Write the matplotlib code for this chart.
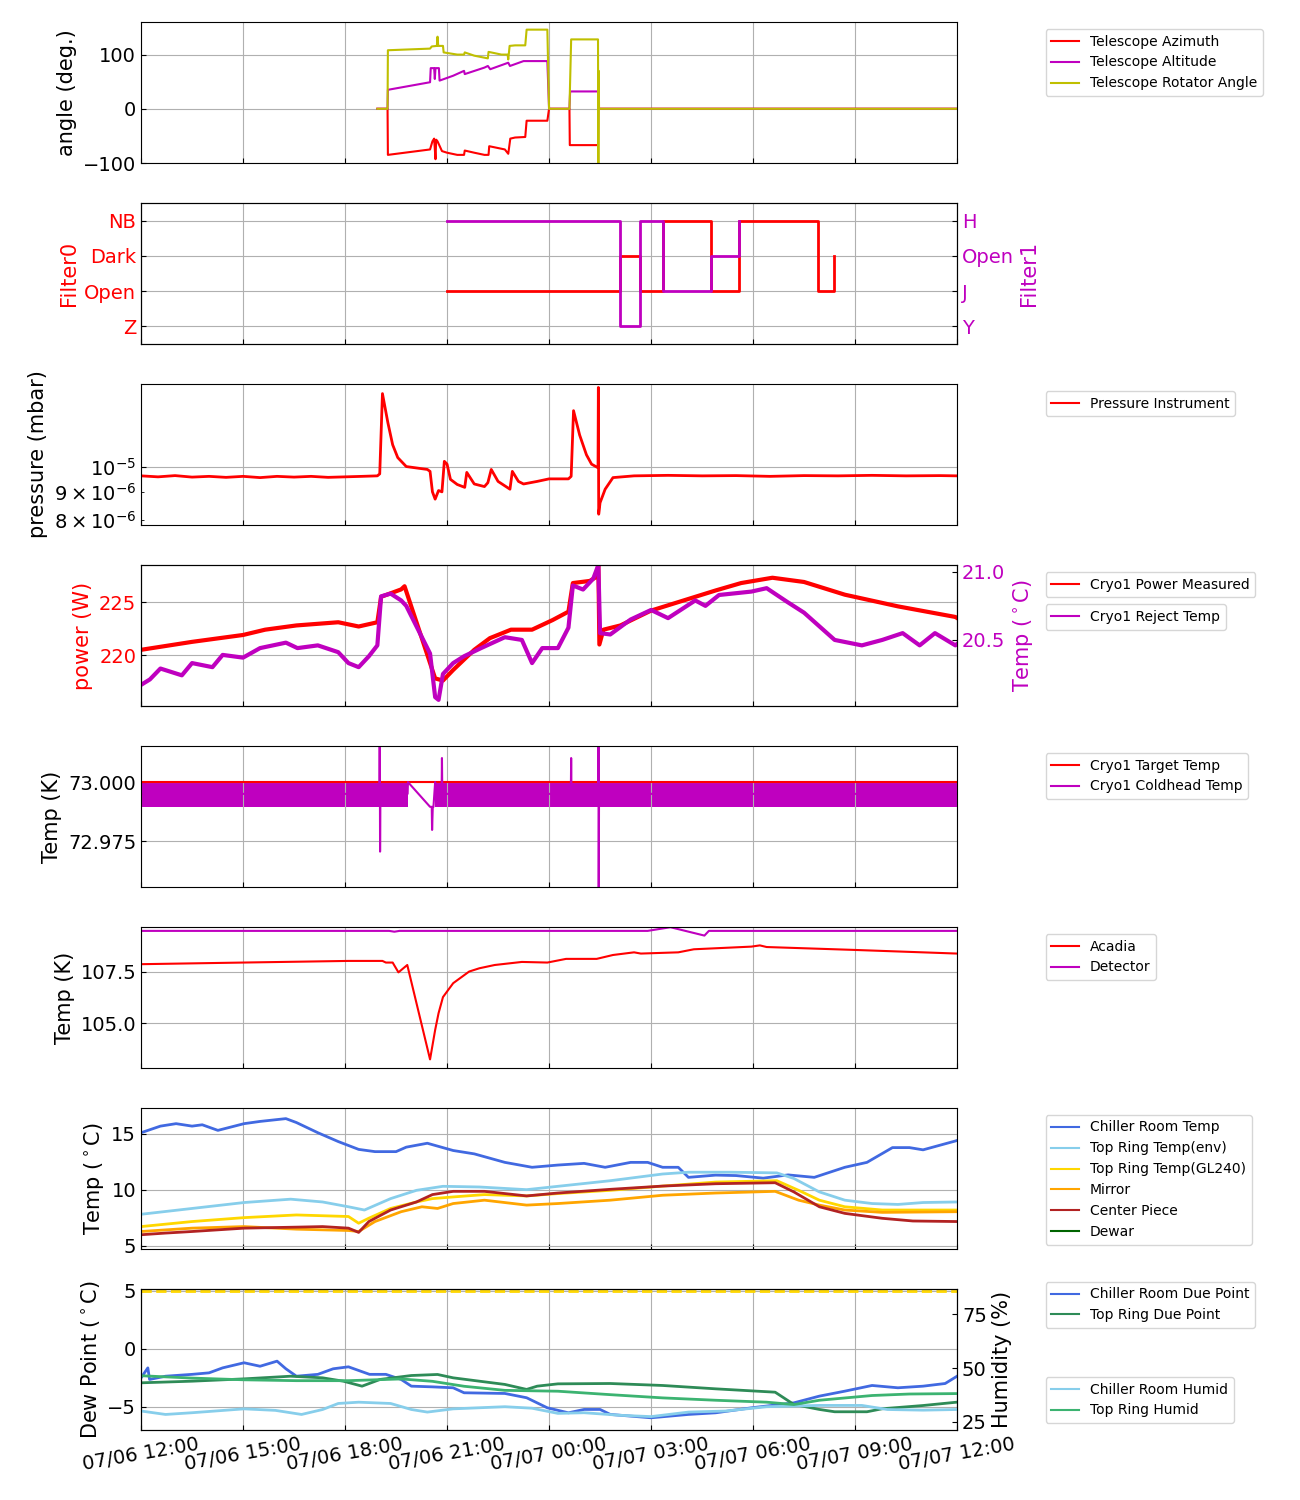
import datetime as dt
import numpy as np
import matplotlib
matplotlib.use("Agg")
import matplotlib.pyplot as plt
import matplotlib.dates as mdates
from matplotlib.ticker import FormatStrFormatter

BASE = dt.datetime(2024, 7, 6, 12, 0)


def T(hours):
    return [BASE + dt.timedelta(hours=float(h)) for h in hours]


# ---------------- Panel 1 : telescope angles ----------------
az_t = [6.95, 7.25, 7.26, 8.5, 8.57, 8.62, 8.66, 8.68, 8.72, 8.85, 9.0, 9.3, 9.5, 9.52,
        9.8, 10.1, 10.22, 10.24, 10.7, 10.8, 10.86, 11.0, 11.3, 11.34, 11.95, 12.0, 12.6,
        12.61, 13.44, 13.45, 24.0]
az_v = [0, 0, -85, -75, -60, -55, -93, -57, -60, -78, -81, -85, -85, -77,
        -81, -85, -85, -69, -75, -83, -55, -53, -52, -22, -22, 0, 0,
        -67, -67, 0, 0]
alt_t = [6.95, 7.25, 7.26, 8.5, 8.52, 8.62, 8.64, 8.66, 8.76, 8.78, 9.18, 9.5, 9.52, 10.1,
         10.2, 10.27, 10.8, 10.85, 11.25, 11.95, 12.0, 12.6, 12.62, 13.44, 13.45, 24.0]
alt_v = [0, 0, 35, 49, 75, 75, 55, 75, 75, 52, 61, 70, 64, 76,
         79, 73, 85, 79, 88, 88, 0, 0, 32, 32, 0, 0]
rot_t = [6.95, 7.25, 7.26, 8.5, 8.55, 8.7, 8.72, 8.74, 8.88, 8.9, 9.3, 9.5, 9.52, 9.8,
         10.2, 10.22, 10.6, 10.78, 10.8, 10.84, 11.0, 11.3, 11.34, 11.95, 12.0, 12.6, 12.65,
         13.44, 13.45, 13.46, 13.47, 24.0]
rot_v = [0, 0, 108, 111, 115, 116, 133, 116, 116, 104, 100, 100, 104, 98,
         93, 105, 100, 100, 91, 116, 117, 117, 146, 146, 0, 0, 128,
         128, -160, 70, 0, 0]

# ---------------- Panel 2 : filters ----------------
filter0_labels = ["Z", "Open", "Dark", "NB"]
filter1_labels = ["Y", "J", "Open", "H"]
f0_t = [9.0, 14.08, 14.68, 15.34, 16.77, 17.6, 19.9, 20.38]
f0_v = [1, 2, 1, 3, 1, 3, 1, 2]
f1_t = [9.0, 14.08, 14.68, 15.34, 16.77, 17.6]
f1_v = [3, 0, 3, 1, 2, 3]

# ---------------- Panel 3 : pressure (1e-6 mbar) ----------------
press_t = [0, 0.5, 1.0, 1.5, 2.0, 2.5, 3.0, 3.5, 4.0, 4.5, 5.0, 5.5, 6.0, 6.5, 6.95, 7.02,
           7.1, 7.26, 7.4, 7.55, 7.8, 8.42, 8.5, 8.57, 8.65, 8.75, 8.85, 8.92, 9.0, 9.1,
           9.3, 9.52, 9.58, 9.8, 10.1, 10.2, 10.3, 10.5, 10.85, 10.92, 11.1, 11.25, 11.65,
           12.0, 12.57, 12.65, 12.72, 12.9, 13.1, 13.25, 13.44, 13.45, 13.46, 13.5, 13.65,
           13.88, 14.5, 15.5, 16.5, 17.5, 18.5, 19.5, 20.5, 21.5, 22.5, 23.5, 24.0]
press_v = [9.62, 9.58, 9.63, 9.57, 9.6, 9.56, 9.6, 9.55, 9.6, 9.57, 9.6, 9.56, 9.58, 9.6, 9.62, 9.7,
           13.55, 12.0, 10.95, 10.38, 10.0, 9.88, 9.8, 9.0, 8.73, 9.05, 9.0, 10.22, 10.1, 9.48,
           9.28, 9.17, 9.76, 9.3, 9.2, 9.35, 9.88, 9.4, 9.1, 9.8, 9.4, 9.3, 9.4,
           9.5, 9.5, 9.6, 12.62, 11.4, 10.5, 10.1, 9.95, 13.9, 8.2, 8.6, 9.1,
           9.55, 9.62, 9.64, 9.62, 9.63, 9.6, 9.63, 9.62, 9.64, 9.62, 9.63, 9.62]

# ---------------- Panel 4 : cryo power / reject temp ----------------
pow_t = [0, 1.5, 3.0, 3.65, 4.57, 5.8, 6.4, 6.95, 7.06, 7.65, 7.75, 8.65, 8.88, 9.18,
         9.8, 10.26, 10.88, 11.5, 12.1, 12.57, 12.7, 13.2, 13.4, 13.45, 13.48, 13.6,
         14.1, 15.0, 16.1, 16.9, 17.65, 18.57, 19.5, 20.7, 22.26, 23.95, 24.0]
pow_v = [220.5, 221.25, 221.9, 222.4, 222.8, 223.1, 222.7, 223.1, 225.5, 226.2, 226.5, 217.8, 217.6, 218.6,
         220.5, 221.6, 222.4, 222.4, 223.3, 224.1, 226.8, 227.0, 227.4, 228.6, 221.0, 222.4,
         222.8, 224.2, 225.3, 226.1, 226.8, 227.3, 226.9, 225.7, 224.6, 223.6, 223.5]
rej_t = [0, 0.26, 0.57, 1.2, 1.5, 2.1, 2.4, 3.0, 3.5, 4.26, 4.6, 5.2, 5.8, 6.1, 6.4, 6.7,
         6.95, 7.06, 7.34, 7.65, 7.8, 8.5, 8.65, 8.75, 8.88, 9.18, 9.5, 10.0, 10.7, 11.2,
         11.5, 11.8, 12.26, 12.57, 12.7, 13.0, 13.3, 13.45, 13.5, 13.8, 14.4, 15.0, 15.5,
         16.3, 16.6, 17.0, 17.95, 18.4, 19.0, 19.5, 19.95, 20.4, 21.2, 21.8, 22.4, 22.9,
         23.35, 23.95, 24.0]
rej_v = [20.17, 20.21, 20.29, 20.24, 20.33, 20.3, 20.39, 20.37, 20.44, 20.48, 20.44, 20.46, 20.41, 20.33, 20.30, 20.38,
         20.46, 20.82, 20.84, 20.79, 20.75, 20.40, 20.08, 20.06, 20.25, 20.33, 20.38, 20.44, 20.52, 20.5,
         20.33, 20.44, 20.44, 20.59, 20.90, 20.87, 20.95, 21.05, 20.55, 20.54, 20.65, 20.72, 20.66,
         20.79, 20.75, 20.83, 20.855, 20.88, 20.78, 20.70, 20.60, 20.50, 20.46, 20.50, 20.55, 20.46,
         20.55, 20.46, 20.47]

# ---------------- Panel 5 : cryo target / coldhead ----------------
target_t = [0, 24.0]
target_v = [73.0, 73.0]
band_t = [0, 7.85, 7.85, 8.65, 8.65, 24.0]
band_hi = [73.0006, 73.0006, np.nan, np.nan, 73.0006, 73.0006]
band_lo = [72.9895, 72.9895, np.nan, np.nan, 72.9895, 72.9895]
cold_t = [0, 7.01, 7.02, 7.03, 7.04, 7.84, 7.85, 8.5, 8.55, 8.56, 8.58, 8.6, 8.65, 8.66,
          8.84, 8.85, 8.86, 12.64, 12.65, 12.66, 13.45, 13.455, 13.46, 13.47, 24.0]
cold_v = [72.995, 72.995, 73.03, 72.9705, 72.995, 72.995, 73.0, 72.9895, 72.9895, 72.9797, 72.9895, 72.9895, 73.0, 72.995,
          72.995, 73.0102, 72.995, 72.995, 73.0102, 72.995, 72.995, 73.03, 72.94, 72.995, 72.995]

# ---------------- Panel 6 : Acadia / Detector ----------------
acadia_t = [0, 3.0, 6.1, 7.1, 7.2, 7.4, 7.57, 7.83, 8.5, 8.65, 8.75, 8.88, 9.18, 9.65, 9.95,
            10.4, 11.2, 11.95, 12.5, 13.4, 13.88, 14.5, 14.7, 15.8, 16.26, 17.95, 18.2, 18.4,
            20.95, 24.0]
acadia_v = [107.88, 107.96, 108.04, 108.04, 107.96, 107.96, 107.48, 107.84, 103.22, 104.66, 105.48, 106.27, 106.95, 107.52, 107.68,
            107.84, 107.99, 107.96, 108.14, 108.14, 108.33, 108.46, 108.4, 108.46, 108.61, 108.74, 108.8, 108.72,
            108.58, 108.4]
det_t = [0, 7.3, 7.45, 7.6, 14.9, 15.57, 16.57, 16.7, 24.0]
det_v = [109.51, 109.51, 109.47, 109.51, 109.51, 109.69, 109.28, 109.51, 109.51]

# ---------------- Panel 7 : environment temps ----------------
chiller_t = [0, 0.57, 1.03, 1.5, 1.8, 2.26, 3.03, 3.5, 4.26, 4.57, 5.2, 5.8, 6.4, 6.88, 7.5, 7.8,
             8.42, 9.18, 9.8, 10.7, 11.5, 12.26, 13.03, 13.65, 14.4, 14.9, 15.34, 15.8, 16.1,
             16.9, 17.5, 18.3, 19.03, 19.8, 20.7, 21.35, 22.1, 22.6, 23.0, 23.95, 24.0]
chiller_v = [15.09, 15.68, 15.9, 15.68, 15.8, 15.3, 15.9, 16.1, 16.35, 16.0, 15.09, 14.3, 13.6, 13.4, 13.4, 13.8,
             14.15, 13.5, 13.2, 12.44, 12.0, 12.2, 12.35, 12.0, 12.44, 12.44, 12.0, 12.0, 11.1,
             11.3, 11.26, 11.03, 11.32, 11.1, 12.0, 12.44, 13.76, 13.76, 13.56, 14.35, 14.4]
env_t = [0, 1.5, 3.03, 4.4, 5.34, 6.1, 6.57, 7.34, 8.1, 8.88, 9.95, 11.34, 12.26, 13.8, 15.34,
         16.1, 17.34, 18.7, 19.2, 19.95, 20.7, 21.5, 22.26, 23.0, 24.0]
env_v = [7.8, 8.32, 8.85, 9.15, 8.9, 8.47, 8.18, 9.2, 9.94, 10.3, 10.24, 10.0, 10.3, 10.8, 11.4,
         11.56, 11.56, 11.5, 11.0, 9.8, 9.06, 8.76, 8.68, 8.85, 8.9]
gl_t = [0, 1.5, 3.03, 4.57, 6.1, 6.4, 6.7, 7.34, 8.1, 8.57, 9.18, 10.1, 11.34, 12.26, 13.8,
        15.34, 16.9, 18.7, 19.34, 19.95, 20.7, 21.8, 24.0]
gl_v = [6.7, 7.15, 7.5, 7.74, 7.6, 7.0, 7.45, 8.32, 8.9, 9.2, 9.35, 9.56, 9.44, 9.65, 9.94,
        10.32, 10.68, 10.8, 9.94, 9.06, 8.47, 8.18, 8.18]
mirror_t = [0, 1.5, 3.03, 4.57, 6.1, 6.4, 6.88, 7.65, 8.26, 8.72, 9.18, 10.1, 11.34, 12.26, 13.8,
            15.34, 16.9, 18.65, 19.34, 19.95, 20.7, 21.8, 24.0]
mirror_v = [6.26, 6.56, 6.7, 6.47, 6.35, 6.26, 7.15, 8.03, 8.47, 8.32, 8.76, 9.06, 8.62, 8.76, 9.06,
            9.5, 9.7, 9.85, 9.06, 8.62, 8.18, 7.97, 8.03]
center_t = [0, 0.72, 1.5, 3.03, 4.57, 5.34, 6.1, 6.4, 6.7, 7.34, 8.1, 8.57, 9.18, 10.1, 11.34,
            12.26, 13.8, 15.34, 16.9, 18.65, 19.2, 19.95, 20.7, 21.8, 22.7, 24.0]
center_v = [5.97, 6.12, 6.26, 6.56, 6.65, 6.7, 6.56, 6.18, 7.15, 8.18, 8.9, 9.56, 9.85, 9.85, 9.44,
            9.7, 10.03, 10.32, 10.53, 10.62, 9.8, 8.47, 7.88, 7.44, 7.2, 7.15]
dewar_t = []
dewar_v = []

# ---------------- Panel 8 : dew point / humidity ----------------
dew_limit = 5
cdp_t = [0, 0.2, 0.25, 0.72, 1.5, 2.0, 2.4, 3.03, 3.5, 4.0, 4.26, 4.57, 5.2, 5.65, 6.1, 6.72,
         7.2, 7.65, 7.95, 8.57, 9.18, 9.5, 10.7, 11.34, 11.95, 12.57, 13.03, 13.5, 13.8, 15.0,
         16.1, 16.9, 17.95, 19.2, 19.95, 20.7, 21.5, 22.26, 23.0, 23.65, 24.0]
cdp_v = [-2.5, -1.64, -2.64, -2.36, -2.2, -2.07, -1.64, -1.2, -1.5, -1.06, -1.72, -2.36, -2.2, -1.72, -1.55, -2.2,
         -2.2, -2.64, -3.22, -3.28, -3.36, -3.79, -3.85, -4.22, -5.09, -5.52, -5.23, -5.23, -5.66, -5.95,
         -5.66, -5.52, -5.09, -4.66, -4.08, -3.65, -3.16, -3.36, -3.22, -2.99, -2.36]
tdp_t = [0, 1.5, 3.03, 4.4, 5.34, 5.95, 6.5, 7.03, 7.95, 8.72, 9.18, 9.95, 10.7, 11.34, 11.65,
         12.26, 13.8, 15.34, 16.9, 18.65, 19.2, 19.95, 20.4, 21.35, 21.8, 23.0, 24.0]
tdp_v = [-2.93, -2.79, -2.59, -2.36, -2.5, -2.79, -3.22, -2.64, -2.3, -2.21, -2.5, -2.79, -3.07, -3.5, -3.22,
         -3.02, -2.99, -3.16, -3.45, -3.74, -4.8, -5.23, -5.43, -5.43, -5.17, -4.89, -4.6]
crh_t = [0, 0.72, 1.5, 3.03, 3.95, 4.72, 5.34, 5.8, 6.4, 7.34, 7.95, 8.42, 9.18, 10.7, 11.5,
         12.26, 13.03, 14.1, 15.0, 16.1, 17.2, 18.4, 19.95, 21.2, 21.95, 23.0, 24.0]
crh_v = [30.1, 28.5, 29.3, 31.1, 30.4, 28.5, 30.8, 33.6, 34.2, 33.6, 30.8, 29.6, 31.1, 32.1, 31.4,
         29.0, 29.3, 28.1, 27.5, 29.6, 30.1, 32.1, 32.7, 32.7, 30.8, 30.5, 30.8]
trh_t = [0, 1.5, 3.03, 4.57, 6.1, 7.65, 8.57, 9.5, 10.7, 12.26, 13.8, 15.34, 16.9, 18.4, 19.2,
         19.95, 21.5, 22.6, 24.0]
trh_v = [46.5, 45.4, 44.6, 44.2, 44.2, 45.0, 43.9, 41.6, 39.7, 39.3, 37.7, 36.2, 35.1, 34.2, 33.1,
         35.1, 37.3, 38.0, 38.2]

# ================= Figure =================
TICK = 14
LAB = 15
LEG = 10
fig = plt.figure(figsize=(13, 15), dpi=100)
gs = fig.add_gridspec(8, 1, left=0.1085, right=0.7362, top=0.9853, bottom=0.0467, hspace=0.284)
axes = []
for i in range(8):
    ax = fig.add_subplot(gs[i, 0], sharex=axes[0] if axes else None)
    axes.append(ax)


def style(ax, grid=True):
    ax.tick_params(direction="in", labelsize=TICK, which="both")
    if grid:
        ax.grid(True)


def leg(ax, handles=None, y=1.0, loc="upper left"):
    kw = dict(loc=loc, bbox_to_anchor=(1.1, y), fontsize=LEG)
    if handles is not None:
        kw["handles"] = handles
    lg = ax.legend(**kw)
    for ln in lg.get_lines():
        ln.set_linewidth(1.5)
    return lg


# Panel 1
ax = axes[0]
ax.plot(T(az_t), az_v, color="r", label="Telescope Azimuth")
ax.plot(T(alt_t), alt_v, color="m", label="Telescope Altitude")
ax.plot(T(rot_t), rot_v, color="y", label="Telescope Rotator Angle")
ax.set_ylim(-100, 160)
ax.set_yticks([-100, 0, 100])
ax.set_ylabel("angle (deg.)", fontsize=LAB)
style(ax)
leg(ax)

# Panel 2
ax = axes[1]
ax.step(T(f0_t), f0_v, where="post", color="r", lw=2)
ax.set_ylim(-0.5, 3.5)
ax.set_yticks(range(len(filter0_labels)))
ax.set_yticklabels(filter0_labels)
ax.set_ylabel("Filter0", color="r", fontsize=LAB)
style(ax)
ax.tick_params(axis="y", labelcolor="r")
ax2 = ax.twinx()
ax2.step(T(f1_t), f1_v, where="post", color="m", lw=2)
ax2.set_ylim(-0.5, 3.5)
ax2.set_yticks(range(len(filter1_labels)))
ax2.set_yticklabels(filter1_labels)
ax2.set_ylabel("Filter1", color="m", fontsize=LAB)
ax2.tick_params(direction="in", labelsize=TICK, labelcolor="m")

# Panel 3
ax = axes[2]
ax.plot(T(press_t), np.array(press_v) * 1e-6, color="r", lw=2, label="Pressure Instrument")
ax.set_yscale("log")
ax.set_ylim(7.84e-6, 1.41e-5)
ax.set_ylabel("pressure (mbar)", fontsize=LAB)
style(ax)
leg(ax)

# Panel 4
ax = axes[3]
l1, = ax.plot(T(pow_t), pow_v, color="r", lw=3, label="Cryo1 Power Measured")
ax.set_ylim(215.2, 228.5)
ax.set_yticks([220, 225])
ax.set_ylabel("power (W)", color="r", fontsize=LAB)
style(ax)
ax.tick_params(axis="y", labelcolor="r")
ax2 = ax.twinx()
l2, = ax2.plot(T(rej_t), rej_v, color="m", lw=3, label="Cryo1 Reject Temp")
ax2.set_ylim(20.015, 21.05)
ax2.set_yticks([20.5, 21.0])
ax2.yaxis.set_major_formatter(FormatStrFormatter("%.1f"))
ax2.set_ylabel("Temp ($^\\circ$C)", color="m", fontsize=LAB)
ax2.tick_params(direction="in", labelsize=TICK, labelcolor="m")
leg(ax, handles=[l1], y=1.0)
leg(ax2, handles=[l2], y=0.77)

# Panel 5
ax = axes[4]
ax.plot(T(target_t), target_v, color="r", lw=1.5, label="Cryo1 Target Temp")
ax.fill_between(T(band_t), band_lo, band_hi, color="m", lw=0)
ax.plot(T(cold_t), cold_v, color="m", lw=1.5, label="Cryo1 Coldhead Temp")
ax.set_ylim(72.9555, 73.0153)
ax.set_yticks([72.975, 73.0])
ax.yaxis.set_major_formatter(FormatStrFormatter("%.3f"))
ax.set_ylabel("Temp (K)", fontsize=LAB)
style(ax)
leg(ax)

# Panel 6
ax = axes[5]
ax.plot(T(acadia_t), acadia_v, color="r", lw=1.5, label="Acadia")
ax.plot(T(det_t), det_v, color="m", lw=1.5, label="Detector")
ax.set_ylim(102.8, 109.7)
ax.set_yticks([105.0, 107.5])
ax.yaxis.set_major_formatter(FormatStrFormatter("%.1f"))
ax.set_ylabel("Temp (K)", fontsize=LAB)
style(ax)
leg(ax)

# Panel 7
ax = axes[6]
ax.plot(T(chiller_t), chiller_v, color="royalblue", lw=2, label="Chiller Room Temp")
ax.plot(T(env_t), env_v, color="skyblue", lw=2, label="Top Ring Temp(env)")
ax.plot(T(gl_t), gl_v, color="gold", lw=2, label="Top Ring Temp(GL240)")
ax.plot(T(mirror_t), mirror_v, color="orange", lw=2, label="Mirror")
ax.plot(T(center_t), center_v, color="firebrick", lw=2, label="Center Piece")
ax.plot(T(dewar_t), dewar_v, color="darkgreen", lw=2, label="Dewar")
ax.set_ylim(4.7, 17.3)
ax.set_yticks([5, 10, 15])
ax.set_ylabel("Temp ($^\\circ$C)", fontsize=LAB)
style(ax)
leg(ax)

# Panel 8
ax = axes[7]
ax.axhline(dew_limit, color="gold", ls="--", lw=2)
h1, = ax.plot(T(cdp_t), cdp_v, color="royalblue", lw=2, label="Chiller Room Due Point")
h2, = ax.plot(T(tdp_t), tdp_v, color="seagreen", lw=2, label="Top Ring Due Point")
ax.set_ylim(-7.0, 5.17)
ax.set_yticks([-5, 0, 5])
ax.set_ylabel("Dew Point ($^\\circ$C)", fontsize=LAB)
style(ax)
ax2 = ax.twinx()
h3, = ax2.plot(T(crh_t), crh_v, color="skyblue", lw=2, label="Chiller Room Humid")
h4, = ax2.plot(T(trh_t), trh_v, color="mediumseagreen", lw=2, label="Top Ring Humid")
ax2.set_ylim(21.3, 86.8)
ax2.set_yticks([25, 50, 75])
ax2.set_ylabel("Humidity (%)", fontsize=LAB)
ax2.tick_params(direction="in", labelsize=TICK)
leg(ax, handles=[h1, h2], y=1.1)
leg(ax2, handles=[h3, h4], y=0.0, loc="lower left")

# shared x axis
axes[0].set_xlim(BASE, BASE + dt.timedelta(hours=24))
axes[-1].xaxis.set_major_locator(mdates.HourLocator(byhour=range(0, 24, 3)))
axes[-1].xaxis.set_major_formatter(mdates.DateFormatter("%m/%d %H:%M"))
for a in axes[:-1]:
    a.tick_params(labelbottom=False)
for lbl in axes[-1].get_xticklabels():
    lbl.set_rotation(10)
    lbl.set_fontsize(TICK)
    lbl.set_ha("center")

fig.savefig("out.png", dpi=100)
